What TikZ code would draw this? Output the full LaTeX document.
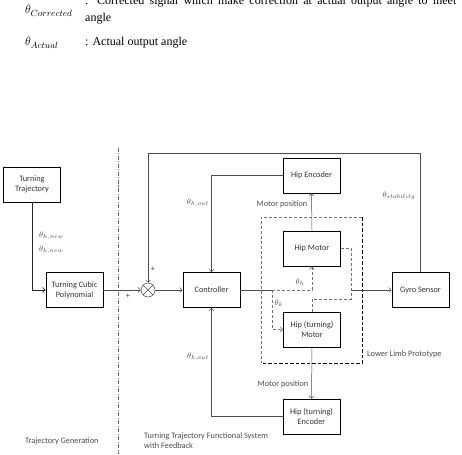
\documentclass[tikz,border=0pt]{standalone}
\usepackage{fontspec}
\setmainfont{Carlito}
\newfontfamily\timesf{Liberation Serif}
\usetikzlibrary{arrows.meta}
\begin{document}
\begin{tikzpicture}[x=1pt,y=-1pt,
  font=\fontsize{8.3}{10}\selectfont,
  box/.style={draw=black, line width=0.6pt, minimum width=57pt, minimum height=35pt, inner sep=1pt, align=center, text=black!80},
  ln/.style={draw=black!70, line width=0.5pt},
  arr/.style={ln, -{Straight Barb[length=2.5pt,width=5pt]}},
  dsh/.style={draw=black!55, line width=0.6pt, dash pattern=on 3pt off 2pt},
  lbl/.style={text=black!70, inner sep=0pt},
  th/.style={text=black!70, inner sep=0pt, font=\fontsize{8}{10}\selectfont}]
\useasboundingbox (0,0) rectangle (462,454);
% top legend text
\node[anchor=base west, inner sep=0pt, font=\fontsize{12}{14}\timesf] (t1) at (85,5) {\hbox to 391pt{: Corrected signal which make correction at actual output angle to meet the}};
\node[anchor=base west, inner sep=0pt, font=\fontsize{12}{14}\timesf] (t2) at (85,22) {angle};
\node[anchor=base west, inner sep=0pt, font=\fontsize{12}{14}\timesf] (t3) at (85,46) {: Actual output angle};
\node[anchor=base west, inner sep=0pt, font=\fontsize{13}{15}\selectfont] (s1) at (25,14) {$\theta_{Corrected}$};
\node[anchor=base west, inner sep=0pt, font=\fontsize{13}{15}\selectfont] (s2) at (25,46) {$\theta_{Actual}$};
% separator
\draw[draw=black!60, line width=0.5pt, dash pattern=on 4pt off 1.5pt on 1pt off 1.5pt] (118,148) -- (118,454);
% boxes
\node[box] (traj) at (32,184.5) {Turning\\Trajectory};
\node[box] (cubic) at (74.5,290) {Turning Cubic\\Polynomial};
\node[draw=black!70, line width=0.5pt, circle, minimum size=14pt, inner sep=0pt,
  path picture={\draw[black!70, line width=0.5pt] (path picture bounding box.north west) -- (path picture bounding box.south east)
    (path picture bounding box.north east) -- (path picture bounding box.south west);}] (sum) at (148,290) {};
\node[box] (ctrl) at (211.5,290) {Controller};
\node[box] (henc) at (311.5,175.5) {Hip Encoder};
\node[box, line width=0.9pt] (hmot) at (312,248.5) {Hip Motor};
\node[box] (tmot) at (312,329.5) {Hip (turning)\\Motor};
\node[box] (tenc) at (311.5,416.5) {Hip (turning)\\Encoder};
\node[box] (gyro) at (420.5,290) {Gyro Sensor};
% lower limb prototype dashed frame
\coordinate (llA) at (261,217);
\coordinate (llB) at (362,217);
\coordinate (llC) at (362,363);
\coordinate (llD) at (261,363);
\draw[dsh] (llB) -- (llA) -- (llD);
\draw[draw=black, line width=1pt, dash pattern=on 3.5pt off 2pt] (llB) -- (llC) -- (llD);
\node[lbl, anchor=west] (llt) at (367,354) {Lower Limb Prototype};
% coordinates
\coordinate (topL) at (148,153);
\coordinate (split) at (272,290);
\coordinate (r1) at (351,299);
\coordinate (gin) at (351,290);
% connectors
\draw[arr, draw=black!85, line width=0.8pt] (traj.south) |- (cubic.west);
\draw[arr] (cubic.east) -- (sum.west);
\draw[arr] (sum.east) -- (ctrl.west);
\draw[arr] (gyro.north) |- (topL) -- (sum.north);
\draw[arr] (henc.west) -| (ctrl.north);
\draw[arr] (tenc.west) -| (ctrl.south);
\draw[arr] (hmot.north) -- (henc.south);
\draw[arr] (tmot.south) -- (tenc.north);
\draw[ln] (ctrl.east) -- (split);
\draw[dsh, -{Straight Barb[length=2.5pt,width=5pt]}] (split) -| (hmot.south);
\draw[dsh, -{Straight Barb[length=2.5pt,width=5pt]}] (split) |- (tmot.west);
\draw[dsh] (hmot.east) -| (r1) -| (tmot.north);
\draw[arr] (gin) -- (gyro.west);
% labels
\node[th, anchor=west] (lhn) at (39,236) {$\theta_{h,new}$};
\node[th, anchor=west] (lkn) at (39,250) {$\theta_{k,new}$};
\node[lbl] (p1) at (128,296) {+};
\node[lbl] (p2) at (153,269) {+};
\node[th] (lho) at (198,203) {$\theta_{h,out}$};
\node[lbl] (mp1) at (282,204) {Motor position};
\node[th] (lst) at (399,196) {$\theta_{stability}$};
\node[th] (lh) at (300,282) {$\theta_h$};
\node[th] (lk) at (279,303) {$\theta_k$};
\node[lbl] (mp2) at (283,384) {Motor position};
\node[th] (lko) at (198,357) {$\theta_{k,out}$};
\node[lbl, anchor=west] (tg) at (25,441) {Trajectory Generation};
\node[lbl, anchor=west, align=left] (tt) at (144,441) {Turning Trajectory Functional System\\with Feedback};
\end{tikzpicture}
\end{document}
